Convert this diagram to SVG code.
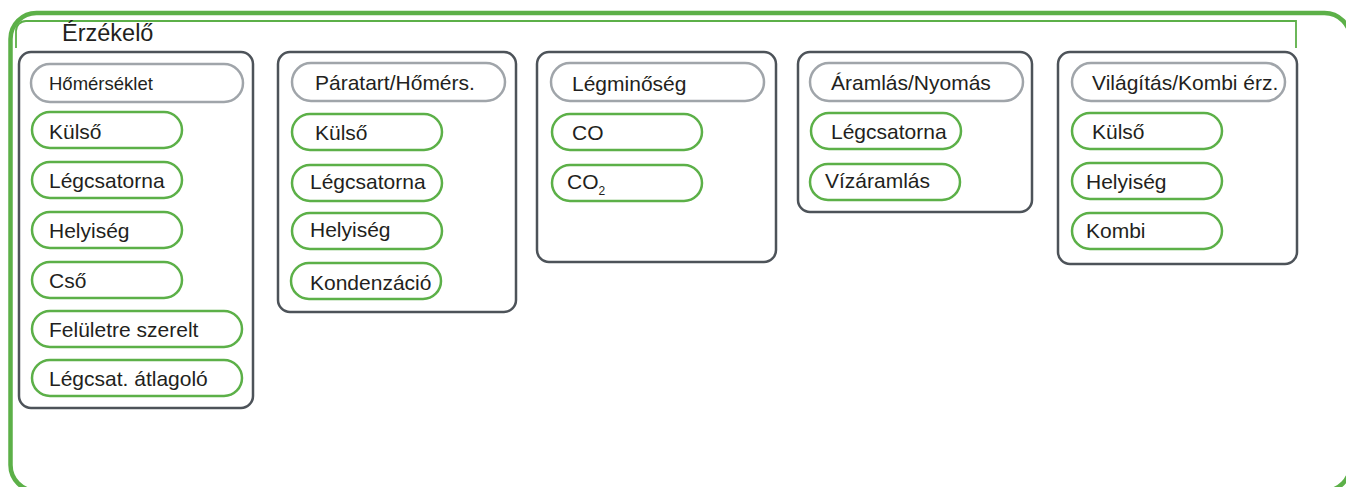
<svg xmlns="http://www.w3.org/2000/svg" width="1346" height="487" viewBox="0 0 1346 487">
<style>
text{font-family:"Liberation Sans",Arial,sans-serif;fill:#231f20;font-size:21px}
text.title{font-size:23.5px}
text.small{font-size:18.5px}
tspan.sub{font-size:12px}
.col{fill:#fff;stroke:#4d5359;stroke-width:2.5}
.hdr{fill:#fff;stroke:#a0a5aa;stroke-width:2.5}
.leaf{fill:#fff;stroke:#5cb048;stroke-width:2.5}
</style>
<rect width="1346" height="487" fill="#fff"/>
<g id="frame">
<rect x="10.5" y="13" width="1340" height="478" rx="26" fill="none" stroke="#5cb048" stroke-width="4.5"/>
<path d="M16,48 V31 A10,10 0 0 1 26,21 H1296 V48" fill="none" stroke="#5cb048" stroke-width="1.8"/>
<text class="title" x="62" y="41">Érzékelő</text>
</g>
<g id="connectors"/>
<g id="col-homerseklet">
<rect class="col" x="19" y="52" width="234" height="356" rx="12"/>
<g id="h-homerseklet"><rect class="hdr" x="31" y="64" width="212" height="38" rx="19"/><text class="small" x="49" y="90">Hőmérséklet</text></g>
<g id="t-kulso"><rect class="leaf" x="32" y="112" width="150" height="36" rx="18"/><text x="49" y="139">Külső</text></g>
<g id="t-legcsatorna"><rect class="leaf" x="32" y="162" width="150" height="36" rx="18"/><text x="49" y="188">Légcsatorna</text></g>
<g id="t-helyiseg"><rect class="leaf" x="32" y="212" width="150" height="36" rx="18"/><text x="49" y="238">Helyiség</text></g>
<g id="t-cso"><rect class="leaf" x="32" y="262" width="150" height="36" rx="18"/><text x="49" y="288">Cső</text></g>
<g id="t-felulet"><rect class="leaf" x="32" y="311" width="210" height="36" rx="18"/><text x="49" y="337">Felületre szerelt</text></g>
<g id="t-atlagolo"><rect class="leaf" x="32" y="360" width="210" height="36" rx="18"/><text x="49" y="386">Légcsat. átlagoló</text></g>
</g>
<g id="col-paratart">
<rect class="col" x="278" y="52" width="238" height="260" rx="12"/>
<g id="h-paratart"><rect class="hdr" x="292" y="63" width="213" height="38" rx="19"/><text x="315" y="90">Páratart/Hőmérs.</text></g>
<g id="p-kulso"><rect class="leaf" x="292" y="114" width="150" height="36" rx="18"/><text x="315" y="140">Külső</text></g>
<g id="p-legcsatorna"><rect class="leaf" x="292" y="165" width="150" height="36" rx="18"/><text x="310" y="189">Légcsatorna</text></g>
<g id="p-helyiseg"><rect class="leaf" x="292" y="213" width="150" height="36" rx="18"/><text x="310" y="237">Helyiség</text></g>
<g id="p-kondenzacio"><rect class="leaf" x="291" y="263" width="150" height="36" rx="18"/><text x="310" y="290">Kondenzáció</text></g>
</g>
<g id="col-legminoseg">
<rect class="col" x="537" y="52" width="239" height="210" rx="12"/>
<g id="h-legminoseg"><rect class="hdr" x="551" y="63" width="213" height="38" rx="19"/><text x="572" y="91">Légminőség</text></g>
<g id="l-co"><rect class="leaf" x="552" y="114" width="150" height="36" rx="18"/><text x="572" y="140">CO</text></g>
<g id="l-co2"><rect class="leaf" x="552" y="165" width="150" height="36" rx="18"/><text x="567" y="189">CO<tspan class="sub" dy="6">2</tspan></text></g>
</g>
<g id="col-aramlas">
<rect class="col" x="798" y="52" width="234" height="160" rx="12"/>
<g id="h-aramlas"><rect class="hdr" x="810" y="63" width="213" height="38" rx="19"/><text x="831" y="90">Áramlás/Nyomás</text></g>
<g id="a-legcsatorna"><rect class="leaf" x="811" y="113" width="150" height="36" rx="18"/><text x="831" y="139">Légcsatorna</text></g>
<g id="a-vizaramlas"><rect class="leaf" x="810" y="164" width="150" height="36" rx="18"/><text x="825" y="188">Vízáramlás</text></g>
</g>
<g id="col-vilagitas">
<rect class="col" x="1058" y="52" width="239" height="212" rx="12"/>
<g id="h-vilagitas"><rect class="hdr" x="1072" y="63" width="213" height="38" rx="19"/><text x="1092" y="90">Világítás/Kombi érz.</text></g>
<g id="v-kulso"><rect class="leaf" x="1072" y="113" width="150" height="36" rx="18"/><text x="1092" y="139">Külső</text></g>
<g id="v-helyiseg"><rect class="leaf" x="1072" y="163" width="150" height="36" rx="18"/><text x="1086" y="189">Helyiség</text></g>
<g id="v-kombi"><rect class="leaf" x="1072" y="213" width="150" height="36" rx="18"/><text x="1086" y="238">Kombi</text></g>
</g>
</svg>
